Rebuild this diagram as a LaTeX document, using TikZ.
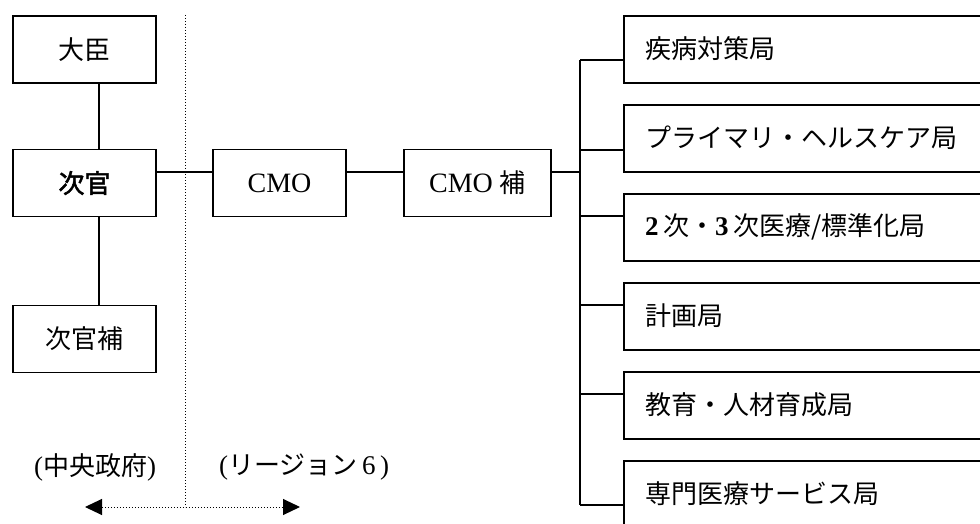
\documentclass[tikz,border=0pt]{standalone}
\usepackage{fontspec}
\setmainfont{Liberation Serif}
\newfontfamily\jp[AutoFakeBold=2]{Noto Sans CJK JP}
\usetikzlibrary{arrows.meta}
\newcommand{\jpsize}{\jp\fontsize{26}{30}\selectfont}
\tikzset{
  box/.style={draw, line width=1.6pt, rectangle, inner sep=0pt, font=\jpsize},
  leftbox/.style={box, minimum width=143pt, minimum height=67pt},
  midbox/.style={box, minimum width=133pt, minimum height=67pt},
  rightbox/.style={box, anchor=west, minimum width=400pt, minimum height=67pt, text width=378pt, align=left, inner xsep=11pt, xshift=11pt},
  rbox/.style={draw, line width=1.6pt, anchor=west, minimum width=400pt, minimum height=67pt, inner sep=0pt},
  conn/.style={line width=1.6pt},
  sep/.style={line width=1pt, dotted},
  lbl/.style={font=\fontsize{27}{30}\selectfont, inner sep=0pt}
}
\begin{document}
\begin{tikzpicture}[x=1pt,y=-1pt]
\useasboundingbox (0,0) rectangle (980,524);
\clip (0,0) rectangle (980,524);
% left column
\node[leftbox] (daijin) at (84.5,49.5) {大臣};
\node[leftbox] (jikan) at (84.5,183) {\bfseries 次官};
\node[leftbox] (jikanho) at (84.5,339) {次官補};
% middle
\node[midbox, font=\fontsize{28}{32}\selectfont] (cmo) at (279.5,183) {CMO};
\node[midbox, minimum width=147pt, font=\fontsize{28}{32}\selectfont] (cmoho) at (477.5,183) {CMO {\jpsize 補}};
% right boxes
\node[rbox] (r1) at (623,49.5) {};
\node[rbox] (r2) at (623,138.5) {};
\node[rbox] (r3) at (623,227.5) {};
\node[rbox] (r4) at (623,316.5) {};
\node[rbox] (r5) at (623,405.5) {};
\node[rbox] (r6) at (623,494.5) {};
\node[font=\jpsize, anchor=west, inner sep=0pt] (t1) at (645,49) {疾病対策局};
\node[font=\jpsize, anchor=west, inner sep=0pt] (t2) at (645,138) {プライマリ・ヘルスケア局};
\node[font=\jpsize, anchor=west, inner sep=0pt] (t3) at (645,227) {{\rmfamily\bfseries\fontsize{27}{30}\selectfont 2\,}次・{\rmfamily\bfseries\fontsize{27}{30}\selectfont 3\,}次医療/標準化局};
\node[font=\jpsize, anchor=west, inner sep=0pt] (t4) at (645,316) {計画局};
\node[font=\jpsize, anchor=west, inner sep=0pt] (t5) at (645,405) {教育・人材育成局};
\node[font=\jpsize, anchor=west, inner sep=0pt] (t6) at (645,494) {専門医療サービス局};
% vertical links left
\draw[conn] ([xshift=14.5pt]daijin.south) -- ([xshift=14.5pt]jikan.north);
\draw[conn] ([xshift=14.5pt]jikan.south) -- ([xshift=14.5pt]jikanho.north);
% horizontal chain
\draw[conn] ([yshift=11pt]jikan.east) -- ([yshift=11pt]cmo.west);
\draw[conn] ([yshift=11pt]cmo.east) -- ([yshift=11pt]cmoho.west);
% bus
\coordinate (b1) at (580,60);
\coordinate (b2) at (580,150);
\coordinate (b3) at (580,216);
\coordinate (b4) at (580,305);
\coordinate (b5) at (580,394);
\coordinate (b6) at (580,505);
\draw[conn] ([yshift=11pt]cmoho.east) -- ([yshift=11pt]cmoho.east -| b1);
\draw[conn] (b1) -- (b6);
\draw[conn] (b1) -- (r1.west |- b1);
\draw[conn] (b2) -- (r2.west |- b2);
\draw[conn] (b3) -- (r3.west |- b3);
\draw[conn] (b4) -- (r4.west |- b4);
\draw[conn] (b5) -- (r5.west |- b5);
\draw[conn] (b6) -- (r6.west |- b6);
% separator
\coordinate (sTop) at (185,15);
\coordinate (sBot) at (185,507);
\coordinate (aL) at (85,507);
\coordinate (aR) at (300,507);
\draw[sep] (sTop) -- (sBot);
\draw[sep, {Triangle[length=17pt,width=16pt]}-{Triangle[length=17pt,width=16pt]}] (aL) -- (aR);
% labels
\node[lbl] (central) at (95,467) {(\jpsize 中央政府\rmfamily\fontsize{27}{30}\selectfont)};
\node[lbl, anchor=west] (region) at (219,467) {(\jpsize リージョン\rmfamily\fontsize{27}{30}\selectfont\,6\,)};
\end{tikzpicture}
\end{document}
